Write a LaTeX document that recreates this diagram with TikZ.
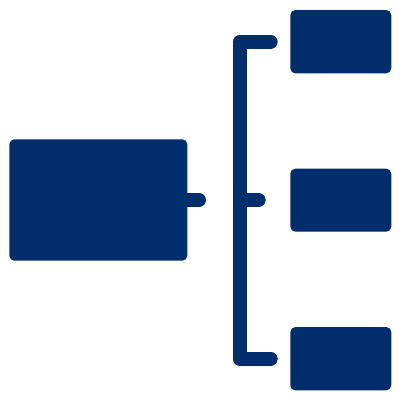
\documentclass[tikz,border=0pt]{standalone}
\definecolor{navy}{RGB}{0,45,107}
\begin{document}
\begin{tikzpicture}[x=1pt,y=-1pt,
  box/.style={fill=navy,draw=none,rounded corners=5pt,inner sep=0pt,outer sep=0pt},
  wire/.style={draw=navy,line width=14pt,line cap=round,line join=round}]
\useasboundingbox (0,0) rectangle (400,400);
\node[box,minimum width=178pt,minimum height=121.4pt] (main) at (98.3,200) {};
\node[box,minimum width=101pt,minimum height=63.3pt] (c1) at (340.8,41.7) {};
\node[box,minimum width=101pt,minimum height=63pt] (c2) at (340.8,200.2) {};
\node[box,minimum width=101pt,minimum height=63.3pt] (c3) at (340.8,358.7) {};
\coordinate (stubend) at (199,200);
\coordinate (ttop) at (270.7,41.7);
\coordinate (tmid) at (258.7,200);
\coordinate (tbot) at (270.7,358.7);
\coordinate (vmid) at (245,200);
\draw[wire] ([xshift=-8pt]main.east) -- (stubend);
\draw[wire] (ttop) -- (239.7,41.7) -- (239.7,358.7) -- (tbot);
\draw[wire] (vmid) -- (tmid);
\end{tikzpicture}
\end{document}
